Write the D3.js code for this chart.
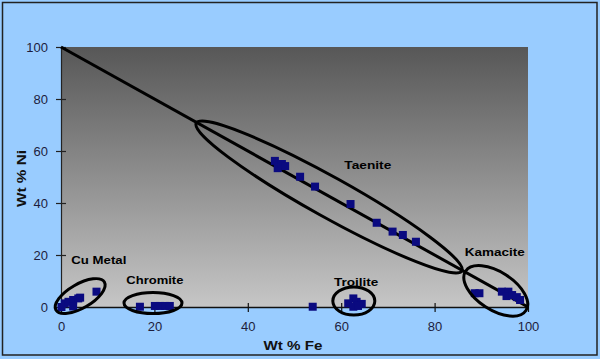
<!DOCTYPE html>
<html>
<head>
<meta charset="utf-8">
<script src="https://cdn.jsdelivr.net/npm/d3@7"></script>
<style>
html,body{margin:0;padding:0;background:#99ccff;}
svg{display:block;}
</style>
</head>
<body>
<svg id="chart" width="600" height="359"></svg>
<script>
// ---- data ----
const xTicks = [0, 20, 40, 60, 80, 100];
const yTicks = [0, 20, 40, 60, 80, 100];
const xTitle = "Wt % Fe";
const yTitle = "Wt % Ni";

const taeniteFe = [45.8, 46.4, 47.3, 48.0, 51.2, 54.4, 62.0, 67.6, 71.0, 73.2, 76.0];
const taeniteNi = [56.2, 53.4, 55.0, 54.2, 50.1, 46.3, 39.6, 32.4, 29.0, 27.7, 25.1];

const kamaciteFe = [88.6, 89.6, 94.4, 95.8, 95.4, 96.6, 97.6, 98.3];
const kamaciteNi = [5.3, 5.3, 5.9, 5.9, 4.2, 4.6, 3.8, 2.7];

const troiliteFe = [62.6, 61.5, 63.3, 64.4, 62.6, 63.6];
const troiliteNi = [3.3, 1.4, 2.0, 1.2, 0.1, 0.4];

const chromiteFe = [16.9, 20.1, 21.2, 22.3, 23.3];
const chromiteNi = [0.1, 0.4, 0.4, 0.4, 0.4];

const cuFe = [0.1, 0.8, 1.6, 2.6, 3.7, 4.1, 2.6, 7.6];
const cuNi = [0.0, 1.4, 2.0, 2.7, 3.3, 3.6, 0.2, 5.9];

const otherFe = [53.9];
const otherNi = [0.1];

const lineFe = [0, 100];
const lineNi = [100, 0];

const groupNames = ["Taenite", "Kamacite", "Cu Metal", "Chromite", "Troilite"];
const ellipseFe = [57.4, 93.1, 4.1, 19.7, 62.7];
const ellipseNi = [42.3, 6.2, 4.2, 1.5, 2.3];
const labelFe = [65.7, 92.9, 8.1, 20.1, 63.2];
const labelNi = [54.6, 21.2, 18.1, 10.4, 9.5];

// ---- layout ----
const svg = d3.select("#chart");
const W = 600, H = 359;
const plot = {left: 61, right: 528, top: 47, bottom: 307};

const x = d3.scaleLinear().domain([0, 100]).range([plot.left, plot.right]);
const y = d3.scaleLinear().domain([0, 100]).range([plot.bottom, plot.top]);

// background
svg.append("rect").attr("x", 0).attr("y", 0).attr("width", W).attr("height", H).attr("fill", "#99ccff");
svg.append("rect").attr("x", 2.5).attr("y", 2.5).attr("width", 594.5).attr("height", 352.5)
  .attr("fill", "none").attr("stroke", "#222").attr("stroke-width", 1.5);

// gradient plot area
const defs = svg.append("defs");
const grad = defs.append("linearGradient").attr("id", "pg").attr("x1", 0).attr("y1", 0).attr("x2", 0).attr("y2", 1);
grad.append("stop").attr("offset", "0%").attr("stop-color", "#575757");
grad.append("stop").attr("offset", "100%").attr("stop-color", "#c6c6c6");
svg.append("rect").attr("x", plot.left).attr("y", plot.top)
  .attr("width", plot.right - plot.left).attr("height", plot.bottom - plot.top)
  .attr("fill", "url(#pg)");

// axes
const tickColor = "#1d1d3d";
const xAxis = d3.axisBottom(x).tickValues(xTicks).tickSizeInner(5).tickSizeOuter(0).tickPadding(10);
const gx = svg.append("g").attr("transform", `translate(0,${plot.bottom})`).call(xAxis);
gx.select(".domain").attr("stroke", "#111").attr("stroke-width", 1.5);
gx.selectAll(".tick line").attr("y1", -4).attr("y2", 5).attr("stroke", "#111").attr("stroke-width", 1.2);
gx.selectAll(".tick text").attr("font-family", "Arial, 'Liberation Sans', sans-serif").attr("font-size", 13)
  .attr("fill", tickColor);

const yAxis = d3.axisLeft(y).tickValues(yTicks).tickSizeInner(5).tickSizeOuter(0).tickPadding(8);
const gy = svg.append("g").attr("transform", `translate(${plot.left},0)`).call(yAxis);
gy.select(".domain").attr("stroke", "#222").attr("stroke-width", 1.2);
gy.selectAll(".tick line").attr("x1", 5).attr("x2", -5).attr("stroke", "#222").attr("stroke-width", 1.2);
gy.selectAll(".tick text").attr("font-family", "Arial, 'Liberation Sans', sans-serif").attr("font-size", 13)
  .attr("fill", tickColor);

// axis titles
svg.append("text").attr("x", 293).attr("y", 350).attr("text-anchor", "middle")
  .attr("font-family", "Arial, 'Liberation Sans', sans-serif").attr("font-weight", "bold").attr("font-size", 12)
  .attr("textLength", 59).attr("lengthAdjust", "spacingAndGlyphs").attr("fill", "#111").text(xTitle);
svg.append("text").attr("transform", "translate(26,178.5) rotate(-90)").attr("text-anchor", "middle")
  .attr("font-family", "Arial, 'Liberation Sans', sans-serif").attr("font-weight", "bold").attr("font-size", 12)
  .attr("textLength", 57).attr("lengthAdjust", "spacingAndGlyphs").attr("fill", "#111").text(yTitle);

// diagonal line
svg.append("line")
  .attr("x1", x(lineFe[0])).attr("y1", y(lineNi[0]))
  .attr("x2", x(lineFe[1])).attr("y2", y(lineNi[1]))
  .attr("stroke", "#000").attr("stroke-width", 3);

// points
const pts = [];
function addPts(fe, ni) { fe.forEach((v, i) => pts.push([v, ni[i]])); }
addPts(taeniteFe, taeniteNi);
addPts(kamaciteFe, kamaciteNi);
addPts(troiliteFe, troiliteNi);
addPts(chromiteFe, chromiteNi);
addPts(cuFe, cuNi);
addPts(otherFe, otherNi);
const S = 8;
svg.append("g").selectAll("rect").data(pts).join("rect")
  .attr("x", d => x(d[0]) - S / 2).attr("y", d => y(d[1]) - S / 2)
  .attr("width", S).attr("height", S).attr("fill", "#0a0a80");

// ellipses (annotation shapes)
const ellipseStyle = [
  {rx: 152, ry: 20, rot: 29.1},
  {rx: 36, ry: 19, rot: 33},
  {rx: 28, ry: 12, rot: -30},
  {rx: 29, ry: 10.5, rot: 0},
  {rx: 21, ry: 14, rot: 0}
];
const eg = svg.append("g");
groupNames.forEach((n, i) => {
  const st = ellipseStyle[i];
  eg.append("ellipse")
    .attr("transform", `translate(${x(ellipseFe[i])},${y(ellipseNi[i])}) rotate(${st.rot})`)
    .attr("rx", st.rx).attr("ry", st.ry)
    .attr("fill", "none").attr("stroke", "#000").attr("stroke-width", 3);
});

// labels
const labelWidths = [47, 60, 55, 57, 44.5];
groupNames.forEach((n, i) => {
  svg.append("text").attr("x", x(labelFe[i])).attr("y", y(labelNi[i]) + 4)
    .attr("text-anchor", "middle")
    .attr("font-family", "Arial, 'Liberation Sans', sans-serif").attr("font-weight", "bold").attr("font-size", 11)
    .attr("textLength", labelWidths[i]).attr("lengthAdjust", "spacingAndGlyphs")
    .attr("fill", "#000").text(n);
});
</script>
</body>
</html>
